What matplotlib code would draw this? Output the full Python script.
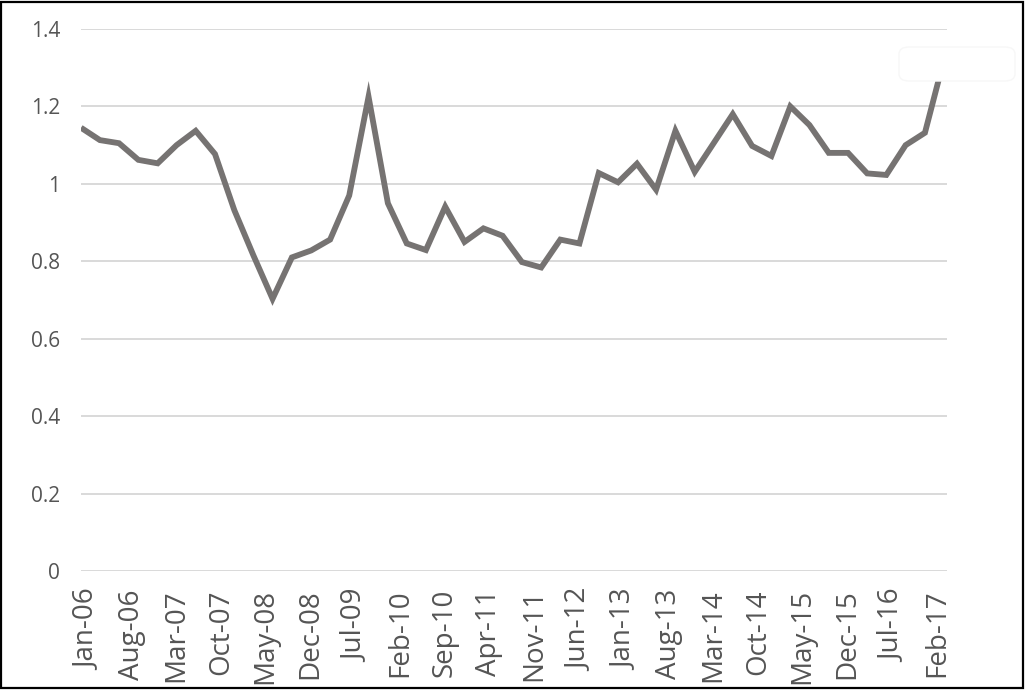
import numpy as np
import pandas as pd
import matplotlib
matplotlib.use("Agg")
import matplotlib.pyplot as plt
import matplotlib.dates as mdates
import matplotlib.transforms as mtransforms
from matplotlib.patches import Rectangle, FancyBboxPatch

# quarterly observations, Jan-06 .. Apr-17
quarters = pd.date_range("2006-01-01", "2017-04-01", freq="QS")
values = [1.145, 1.113, 1.105, 1.062, 1.053, 1.100, 1.137, 1.077, 0.932, 0.815,
          0.703, 0.810, 0.828, 0.856, 0.970, 1.225, 0.950, 0.846, 0.829, 0.941,
          0.850, 0.885, 0.866, 0.798, 0.784, 0.856, 0.846, 1.028, 1.004, 1.052,
          0.985, 1.137, 1.031, 1.105, 1.180, 1.098, 1.072, 1.200, 1.152, 1.080,
          1.080, 1.027, 1.023, 1.100, 1.132, 1.320]

# axis labels every 7 months
tick_dates = pd.date_range("2006-01-01", "2017-02-01", freq="7MS")
y_ticks = [0, 0.2, 0.4, 0.6, 0.8, 1, 1.2, 1.4]
y_labels = ["0", "0.2", "0.4", "0.6", "0.8", "1", "1.2", "1.4"]

line_color = "#767372"
text_color = "#555555"
grid_color = "#d9d9d9"

plt.rcParams["font.family"] = ["Open Sans", "DejaVu Sans"]

W, H = 1026, 691
fig = plt.figure(figsize=(W / 100, H / 100), dpi=100)
ax = fig.add_axes([81 / W, 1 - 571 / H, (947 - 81) / W, (571 - 29) / H])

ax.plot(quarters, values, color=line_color, lw=4.2, solid_joinstyle="miter",
        solid_capstyle="butt", zorder=3)

ax.set_xlim(pd.Timestamp("2006-01-01"), pd.Timestamp("2017-04-16"))
ax.set_ylim(0, 1.4)

ax.set_yticks(y_ticks)
ax.set_yticklabels(y_labels)
ax.set_xticks(tick_dates)
ax.xaxis.set_major_formatter(mdates.DateFormatter("%b-%y"))

ax.grid(axis="y", color=grid_color, lw=1.4)
ax.set_axisbelow(True)
for s in ax.spines.values():
    s.set_visible(False)

ax.tick_params(axis="y", length=0, pad=15, labelsize=15, labelcolor=text_color)
ax.tick_params(axis="x", length=0, pad=13, labelsize=20, labelcolor=text_color,
               labelrotation=90)

# nudge rotated labels so the glyphs sit centred on their dates
shift = mtransforms.ScaledTranslation(6 / 100, 0, fig.dpi_scale_trans)
for lab in ax.get_xticklabels():
    lab.set_transform(lab.get_transform() + shift)

# outer black frame
fig.patches.append(Rectangle((1 / W, 3 / H), 1022 / W, 686 / H, transform=fig.transFigure,
                             fill=False, ec="black", lw=1.6))
# faint white box over the top right corner
fig.patches.append(FancyBboxPatch((899 / W, 1 - 81 / H), 116 / W, 34 / H,
                                  boxstyle="round,pad=0,rounding_size=0.01",
                                  transform=fig.transFigure, fc="white", ec="#f7f7f7",
                                  lw=1.0, zorder=5))

fig.savefig("out.png", dpi=100)
